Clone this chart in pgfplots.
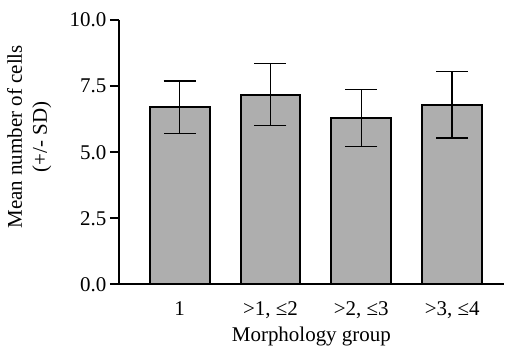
\documentclass[border=0pt]{standalone}
\usepackage{fontspec}
\setmainfont{Liberation Serif}
\usepackage{pgfplots}
\pgfplotsset{compat=1.18}
\definecolor{barfill}{RGB}{174,174,174}
\begin{document}
\begin{tikzpicture}
\begin{axis}[
  name=ax,
  scale only axis,
  width=386bp, height=265bp,
  font=\fontsize{21bp}{25bp}\selectfont,
  xmin=-0.670, xmax=3.571,
  ymin=0, ymax=10,
  axis lines*=left,
  axis line style={line width=2bp},
  ytick={0,2.5,5,7.5,10},
  yticklabel style={/pgf/number format/.cd, fixed, fixed zerofill, precision=1, assume math mode=true},
  tick align=outside,
  major tick length=9bp,
  ytick style={line width=2bp, black},
  xtick=data,
  xticklabels={{1},{>1, ≤2},{>2, ≤3},{>3, ≤4}},
  xtick style={draw=none},
  xticklabel style={inner sep=0pt, anchor=north, yshift=-8bp},
  ylabel={Mean number of cells\\(+/- SD)},
  ylabel style={at={(axis description cs:0,0.558)}, anchor=south, yshift=64bp, align=center},
  xlabel={Morphology group},
  xlabel style={at={(axis description cs:0.5,0)}, anchor=north, inner sep=0pt, yshift=-42bp},
  clip=false,
]
\addplot[
  ybar, bar width=60bp, fill=barfill, draw=black, line width=2bp,
  error bars/.cd, y dir=both, y explicit,
  error bar style={line width=1.5bp, black},
  error mark options={rotate=90, mark size=16bp, line width=1.5bp, black},
] table[x=x, y=y, y error=e] {
x y e
0 6.70 1.00
1 7.18 1.17
2 6.29 1.08
3 6.79 1.26
};
\coordinate (o) at (rel axis cs:0,0);
\coordinate (ne) at (rel axis cs:1,1);
\end{axis}
\path ([shift={(-119bp,-62bp)}]o) rectangle ([shift={(0,20bp)}]ne);
\end{tikzpicture}
\end{document}
